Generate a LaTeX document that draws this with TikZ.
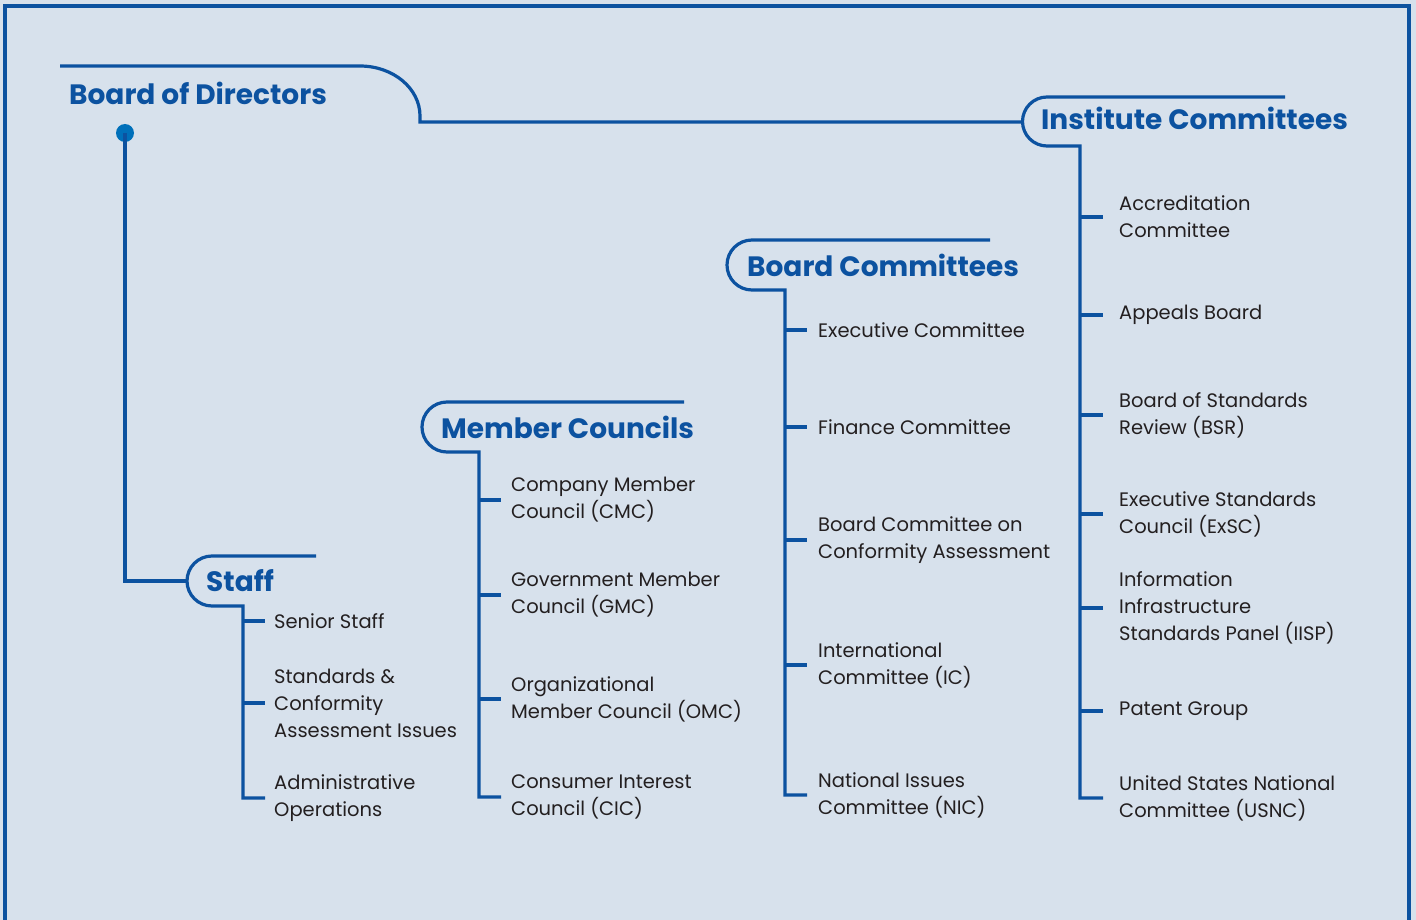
\documentclass[tikz,border=0pt]{standalone}
\usepackage{fontspec}
\setmainfont{Poppins}
\definecolor{paper}{RGB}{215,225,236}
\definecolor{orgblue}{RGB}{12,82,160}
\definecolor{dotblue}{RGB}{0,112,186}
\definecolor{ink}{RGB}{35,31,32}
\tikzset{
  line/.style={draw=orgblue,line width=3.2pt},
  tick/.style={draw=orgblue,line width=3.2pt},
  head/.style={anchor=base west,inner sep=0pt,text=orgblue,
    font=\bfseries\fontsize{28}{30}\selectfont},
  item/.style={anchor=west,inner sep=0pt,align=left,text=ink,
    font=\fontsize{19.5}{27}\selectfont}
}

\begin{document}
\begin{tikzpicture}[x=1pt,y=-1pt]
    \fill[paper] (0,0) rectangle (1416,920);
    \useasboundingbox (0,0) rectangle (1416,920);
    \draw[line] (5,920) -- (5,6) -- (1409,6) -- (1409,920);

    \node[head] (bod) at (69,105) {Board of Directors};
    \node[head] (staff) at (206,591) {Staff};
    \node[head] (mc) at (441,438) {Member Councils};
    \node[head] (bc) at (747,276) {Board Committees};
    \node[head] (inst) at (1041,130) {Institute Committees};

    \coordinate (staffcurve) at (187,581);
    \coordinate (instcurve) at (1022,122);
    \coordinate (staffspine) at (243,606);
    \coordinate (mcspine) at (479,452);
    \coordinate (bcspine) at (785,290);
    \coordinate (instspine) at (1080,146);

    \node[item] (ss) at (274,621) {Senior Staff};
    \node[item] (sca) at (274,703) {Standards \&\\Conformity\\Assessment Issues};
    \node[item] (ao) at (274,798) {Administrative\\Operations};

    \node[item] (cmc) at (511,500) {Company Member\\Council (CMC)};
    \node[item] (gmc) at (511,595) {Government Member\\Council (GMC)};
    \node[item] (omc) at (511,699) {Organizational\\Member Council (OMC)};
    \node[item] (cic) at (511,797) {Consumer Interest\\Council (CIC)};

    \node[item] (exc) at (818,330) {Executive Committee};
    \node[item] (fin) at (818,427) {Finance Committee};
    \node[item] (bcca) at (818,540) {Board Committee on\\Conformity Assessment};
    \node[item] (ic) at (818,665) {International\\Committee (IC)};
    \node[item] (nic) at (818,795) {National Issues\\Committee (NIC)};

    \node[item] (acc) at (1119,217) {Accreditation\\Committee};
    \node[item] (ab) at (1119,315) {Appeals Board};
    \node[item] (bsr) at (1119,415) {Board of Standards\\Review (BSR)};
    \node[item] (exsc) at (1119,514) {Executive Standards\\Council (ExSC)};
    \node[item] (iisp) at (1119,608) {Information\\Infrastructure\\Standards Panel (IISP)};
    \node[item] (pg) at (1119,711) {Patent Group};
    \node[item] (usnc) at (1119,798) {United States National\\Committee (USNC)};

    \draw[line] (60,66) -- (360,66) arc[start angle=270,end angle=360,x radius=60,y radius=50]
      -- (420,122) -- (instcurve);
    \fill[dotblue] (125,133) circle (9);
    \draw[line] (125,133) -- (125,581) -- (staffcurve);

    \draw[line] (316,556) -- (212,556) arc[start angle=270,end angle=90,radius=25]
      -- (staffspine) -- (staffspine |- ao.west) -- ++(22,0);
    \draw[tick] (staffspine |- ss.west) -- ++(22,0);
    \draw[tick] (staffspine |- sca.west) -- ++(22,0);

    \draw[line] (684,402) -- (447,402) arc[start angle=270,end angle=90,radius=25]
      -- (mcspine) -- (mcspine |- cic.west) -- ++(22,0);
    \draw[tick] (mcspine |- cmc.west) -- ++(22,0);
    \draw[tick] (mcspine |- gmc.west) -- ++(22,0);
    \draw[tick] (mcspine |- omc.west) -- ++(22,0);

    \draw[line] (990,240) -- (752,240) arc[start angle=270,end angle=90,radius=25]
      -- (bcspine) -- (bcspine |- nic.west) -- ++(22,0);
    \draw[tick] (bcspine |- exc.west) -- ++(22,0);
    \draw[tick] (bcspine |- fin.west) -- ++(22,0);
    \draw[tick] (bcspine |- bcca.west) -- ++(22,0);
    \draw[tick] (bcspine |- ic.west) -- ++(22,0);

    \draw[line] (1285,97) -- (1047,97) arc[start angle=270,end angle=90,radius=24.5]
      -- (instspine) -- (instspine |- usnc.west) -- ++(23,0);
    \draw[tick] (instspine |- acc.west) -- ++(23,0);
    \draw[tick] (instspine |- ab.west) -- ++(23,0);
    \draw[tick] (instspine |- bsr.west) -- ++(23,0);
    \draw[tick] (instspine |- exsc.west) -- ++(23,0);
    \draw[tick] (instspine |- iisp.west) -- ++(23,0);
    \draw[tick] (instspine |- pg.west) -- ++(23,0);
\end{tikzpicture}
\end{document}
